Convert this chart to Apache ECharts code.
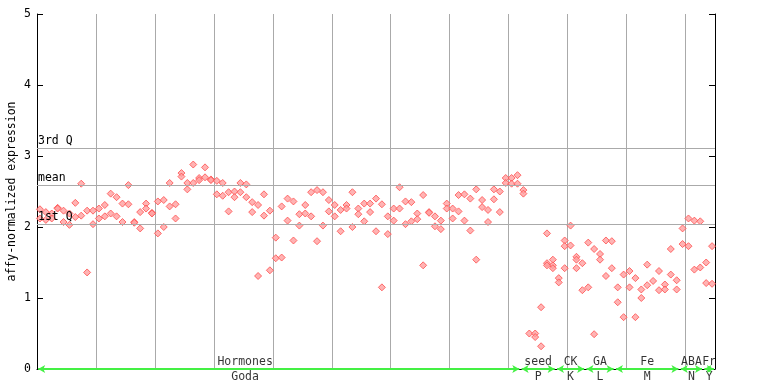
<!DOCTYPE html>
<html>
<head>
<meta charset="utf-8">
<script src="https://cdn.jsdelivr.net/npm/echarts@6/dist/echarts.min.js"></script>
<style>html,body{margin:0;padding:0;background:#fff}#c{width:768px;height:384px}</style>
</head>
<body>
<div id="c"></div>
<script>
// replicate values per sample (sample index 0..114)
var rep1 = [2.25,2.21,2.19,2.27,2.23,2.19,2.34,2.61,2.23,2.23,2.26,2.31,2.47,2.42,2.33,2.59,2.07,2.21,2.33,2.20,
  2.36,2.38,2.62,2.32,2.76,2.62,2.88,2.69,2.84,2.67,2.65,2.62,2.49,2.50,2.62,2.60,2.35,2.31,2.46,2.23,
  1.85,2.29,2.40,2.36,2.18,2.31,2.49,2.52,2.49,2.38,2.31,2.24,2.31,2.49,2.26,2.33,2.33,2.40,2.32,2.15,
  2.26,2.56,2.36,2.35,2.19,2.45,2.21,2.15,2.09,2.33,2.26,2.45,2.46,2.40,2.53,2.38,2.24,2.53,2.50,2.69,
  2.69,2.73,2.52,0.50,0.50,0.87,1.91,1.54,1.28,1.81,2.02,1.58,1.49,1.78,1.69,1.62,1.81,1.80,1.15,1.33,
  1.38,1.28,1.12,1.47,1.24,1.38,1.19,1.69,1.25,1.98,2.12,2.09,2.08,1.50,1.73];
var rep2 = [2.12,2.10,2.12,2.26,2.07,2.03,2.14,2.16,1.36,2.04,2.12,2.15,2.19,2.15,2.07,2.32,2.06,1.98,2.26,2.19,
  1.91,2.00,2.29,2.12,2.71,2.53,2.62,2.66,2.70,2.66,2.46,2.44,2.22,2.42,2.49,2.42,2.21,1.31,2.16,1.39,
  1.56,1.57,2.09,1.81,2.02,2.19,2.15,1.80,2.02,2.22,2.15,1.94,2.26,2.00,2.18,2.08,2.21,1.94,1.15,1.90,
  2.09,2.26,2.04,2.08,2.11,1.46,2.20,2.01,1.97,2.26,2.12,2.22,2.09,1.95,1.54,2.28,2.07,2.39,2.21,2.62,
  2.61,2.61,2.47,null,0.45,0.32,1.49,1.46,1.22,1.73,1.74,1.54,1.11,1.15,0.49,1.54,1.31,1.42,0.94,0.73,
  1.15,0.73,1.00,1.18,null,1.11,1.12,1.33,1.12,1.76,1.73,1.40,1.43,1.21,1.20];
var rep3Index = [86, 87, 89, 91];
var rep3Values = [1.46, 1.42, 1.42, 1.42];

// summary lines
var statNames = ['3rd Q', 'mean', '1st Q'];
var statValues = [3.11, 2.59, 2.04];

// sample groups (start/end in sample index units)
var groupStart = [0, 82, 88, 93, 98, 109, 113];
var groupEnd = [82, 88, 93, 98, 109, 113, 115];
var groupTop = ['Hormones', 'seed', 'CK', 'GA', 'Fe', 'ABA', 'Fr'];
var groupBottom = ['Goda', 'P', 'K', 'L', 'M', 'N', 'Y'];
var groupLabelX = [35.3, 85, 90.5, 95.5, 103.5, 111, 114];

var yTicks = [0, 1, 2, 3, 4, 5];
var nSamples = 115;

var FONT = 'DejaVu Sans Mono';
var pts = [];
for (var i = 0; i < rep1.length; i++) {
  if (rep1[i] != null) pts.push([i + 0.5, rep1[i]]);
  if (rep2[i] != null) pts.push([i + 0.5, rep2[i]]);
}
for (var j = 0; j < rep3Index.length; j++) pts.push([rep3Index[j] + 0.5, rep3Values[j]]);

var arrowData = groupStart.map(function (s, k) {
  return [{coord: [s + 0.2, 0]}, {coord: [groupEnd[k] - 0.2, 0]}];
});
var statData = statValues.map(function (v, k) {
  return {yAxis: v, label: {formatter: statNames[k]}};
});
var topLbl = groupLabelX.map(function (x, k) { return {value: [x, 0], name: groupTop[k]}; });
var botLbl = groupLabelX.map(function (x, k) { return {value: [x, 0], name: groupBottom[k]}; });

var chart = echarts.init(document.getElementById('c'), null, {renderer: 'canvas'});
chart.setOption({
  animation: false,
  backgroundColor: '#fff',
  grid: {left: 37, right: 53, top: 14, bottom: 15, containLabel: false, outerBoundsMode: 'none'},
  xAxis: {
    type: 'value', min: 0, max: nSamples, interval: 10,
    axisLine: {show: true, lineStyle: {color: '#000', width: 1}},
    axisTick: {show: false}, axisLabel: {show: false},
    splitLine: {show: true, lineStyle: {color: '#aaaaaa', width: 1}}
  },
  yAxis: [{
    type: 'value', min: yTicks[0], max: yTicks[yTicks.length - 1], interval: 1,
    name: 'affy-normalized expression', nameLocation: 'middle', nameGap: 19, nameRotate: 90,
    nameMoveOverlap: false,
    nameTextStyle: {fontFamily: FONT, fontSize: 11.5, color: '#000'},
    axisLine: {show: true, lineStyle: {color: '#000', width: 1}},
    axisTick: {show: true, inside: true, length: 6, lineStyle: {color: '#000'}},
    axisLabel: {fontFamily: FONT, fontSize: 11.5, color: '#000', margin: 6},
    splitLine: {show: false}
  }, {
    type: 'value', min: yTicks[0], max: yTicks[yTicks.length - 1], interval: 1, position: 'right',
    axisLine: {show: true, lineStyle: {color: '#000', width: 1}},
    axisTick: {show: true, inside: true, length: 6, lineStyle: {color: '#000'}},
    axisLabel: {show: false}, splitLine: {show: false}
  }],
  series: [{
    type: 'scatter', data: pts, symbol: 'diamond', symbolSize: 7,
    itemStyle: {color: '#ffa0a0', borderColor: '#ff4d4d', borderWidth: 1},
    markLine: {
      silent: true, symbol: ['none', 'none'],
      lineStyle: {color: '#aaaaaa', width: 1, type: 'solid'},
      label: {show: true, position: 'insideStartTop', distance: [1, 1], fontFamily: FONT, fontSize: 11.5, color: '#000'},
      data: statData
    },
    z: 3
  }, {
    type: 'scatter', data: topLbl, symbolSize: 1, itemStyle: {color: 'rgba(0,0,0,0)'},
    label: {show: true, position: 'inside', offset: [0, -7], formatter: '{b}', fontFamily: FONT, fontSize: 11.5, color: '#000'},
    markLine: {
      silent: true, symbol: ['arrow', 'arrow'], symbolSize: [6, 7],
      lineStyle: {color: '#44f044', width: 2, type: 'solid'},
      label: {show: false}, data: arrowData
    },
    z: 4
  }, {
    type: 'scatter', data: botLbl, symbolSize: 1, itemStyle: {color: 'rgba(0,0,0,0)'},
    label: {show: true, position: 'inside', offset: [0, 8], formatter: '{b}', fontFamily: FONT, fontSize: 11.5, color: '#000'},
    z: 4
  }]
});
</script>
</body>
</html>
